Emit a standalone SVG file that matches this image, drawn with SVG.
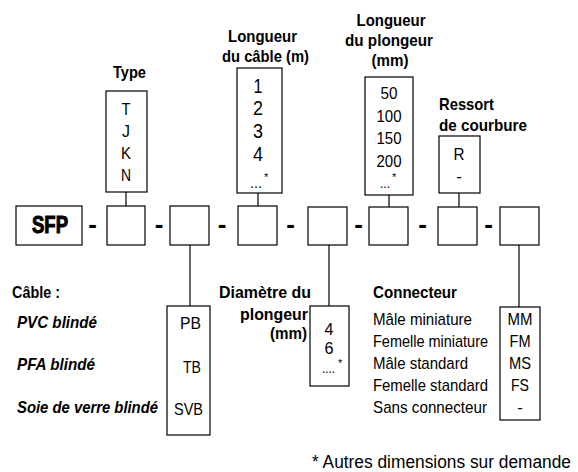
<svg xmlns="http://www.w3.org/2000/svg" width="578" height="472" viewBox="0 0 578 472">
<style>
text{font-family:"Liberation Sans Narrow","Liberation Sans",Arial,sans-serif;fill:#000}
.b{font-weight:bold;font-size:17px}
.bi{font-weight:bold;font-style:italic;font-size:17px}
.r{font-size:17px}
.n{font-size:21px}
.c{text-anchor:middle}
.e{text-anchor:end}
.d{font-weight:bold;font-size:26px;text-anchor:middle}
.dots{font-size:14px}
.st{font-size:11px}
.box{fill:#fff;stroke:#000;stroke-width:1.2}
line{stroke:#000;stroke-width:1.2}
</style>
<rect width="578" height="472" fill="#fff"/>

<g id="connectors">
<line x1="126" y1="192" x2="126" y2="206"/>
<line x1="258" y1="193" x2="258" y2="206"/>
<line x1="389" y1="195" x2="389" y2="207"/>
<line x1="459" y1="193" x2="459" y2="207"/>
<line x1="190" y1="245" x2="190" y2="306"/>
<line x1="329" y1="245" x2="329" y2="306"/>
<line x1="519" y1="245" x2="519" y2="307"/>
</g>

<g id="code-row">
<g id="sfp"><rect class="box" x="16" y="206" width="66" height="39"/><text x="32" y="233" font-weight="bold" font-size="23" textLength="36" lengthAdjust="spacingAndGlyphs" stroke="#000" stroke-width="1">SFP</text></g>
<g id="box1"><rect class="box" x="107" y="206" width="38" height="39"/></g>
<g id="box2"><rect class="box" x="170" y="206" width="39" height="39"/></g>
<g id="box3"><rect class="box" x="238" y="206" width="39" height="39"/></g>
<g id="box4"><rect class="box" x="308" y="207" width="39" height="38"/></g>
<g id="box5"><rect class="box" x="369" y="207" width="39" height="38"/></g>
<g id="box6"><rect class="box" x="438" y="207" width="39" height="38"/></g>
<g id="box7"><rect class="box" x="500" y="207" width="39" height="38"/></g>
<g id="dashes">
<text class="d" x="92.5" y="233">-</text>
<text class="d" x="159" y="233">-</text>
<text class="d" x="222" y="233">-</text>
<text class="d" x="290.5" y="233">-</text>
<text class="d" x="358.5" y="233">-</text>
<text class="d" x="422.5" y="233">-</text>
<text class="d" x="488.5" y="233">-</text>
</g>
</g>

<g id="type">
<text class="b" x="113" y="78" textLength="33" lengthAdjust="spacingAndGlyphs">Type</text>
<rect class="box" x="106" y="91" width="41" height="101"/>
<text class="r c" x="126" y="115" textLength="9" lengthAdjust="spacingAndGlyphs">T</text>
<text class="r c" x="126" y="137" textLength="8" lengthAdjust="spacingAndGlyphs">J</text>
<text class="r c" x="126" y="159" textLength="10" lengthAdjust="spacingAndGlyphs">K</text>
<text class="r c" x="126" y="181" textLength="10" lengthAdjust="spacingAndGlyphs">N</text>
</g>

<g id="cable-length">
<text class="b" x="228" y="42" textLength="69" lengthAdjust="spacingAndGlyphs">Longueur</text>
<text class="b" x="222" y="62" textLength="87" lengthAdjust="spacingAndGlyphs">du câble (m)</text>
<rect class="box" x="237" y="68" width="45" height="125"/>
<text class="n c" x="258" y="93" textLength="9" lengthAdjust="spacingAndGlyphs">1</text>
<text class="n c" x="258" y="115" textLength="10" lengthAdjust="spacingAndGlyphs">2</text>
<text class="n c" x="258" y="138" textLength="10" lengthAdjust="spacingAndGlyphs">3</text>
<text class="n c" x="258" y="161" textLength="10" lengthAdjust="spacingAndGlyphs">4</text>
<text class="dots" x="250" y="188" textLength="12" lengthAdjust="spacingAndGlyphs">...</text>
<text class="st" x="264" y="181">*</text>
</g>

<g id="plunger-length">
<text class="b c" x="391" y="26" textLength="69" lengthAdjust="spacingAndGlyphs">Longueur</text>
<text class="b c" x="389" y="46" textLength="88" lengthAdjust="spacingAndGlyphs">du plongeur</text>
<text class="b c" x="390" y="66" textLength="37" lengthAdjust="spacingAndGlyphs">(mm)</text>
<rect class="box" x="365" y="77" width="48" height="118"/>
<text class="r c" x="389" y="99" textLength="17" lengthAdjust="spacingAndGlyphs">50</text>
<text class="r c" x="389" y="122" textLength="25" lengthAdjust="spacingAndGlyphs">100</text>
<text class="r c" x="389" y="144" textLength="25" lengthAdjust="spacingAndGlyphs">150</text>
<text class="r c" x="389" y="167" textLength="25" lengthAdjust="spacingAndGlyphs">200</text>
<text class="dots" x="380" y="188" textLength="10" lengthAdjust="spacingAndGlyphs">...</text>
<text class="st" x="392" y="181">*</text>
</g>

<g id="spring">
<text class="b" x="439" y="110" textLength="55" lengthAdjust="spacingAndGlyphs">Ressort</text>
<text class="b" x="439" y="131" textLength="88" lengthAdjust="spacingAndGlyphs">de courbure</text>
<rect class="box" x="439" y="136" width="41" height="57"/>
<text class="r c" x="459" y="160" textLength="11" lengthAdjust="spacingAndGlyphs">R</text>
<text class="r c" x="459" y="182">-</text>
</g>

<g id="cable">
<text class="b" x="12" y="298" textLength="48" lengthAdjust="spacingAndGlyphs">Câble :</text>
<text class="bi" x="17" y="328" textLength="80" lengthAdjust="spacingAndGlyphs">PVC blindé</text>
<text class="bi" x="17" y="370" textLength="78" lengthAdjust="spacingAndGlyphs">PFA blindé</text>
<text class="bi" x="17" y="413" font-size="15" textLength="141" lengthAdjust="spacingAndGlyphs">Soie de verre blindé</text>
<rect class="box" x="167" y="306" width="43" height="129"/>
<text class="r" x="180" y="329" textLength="21" lengthAdjust="spacingAndGlyphs">PB</text>
<text class="r" x="183" y="373" textLength="18" lengthAdjust="spacingAndGlyphs">TB</text>
<text class="r" x="174" y="415" textLength="29" lengthAdjust="spacingAndGlyphs">SVB</text>
</g>

<g id="diameter">
<text class="b e" x="311" y="298" textLength="92" lengthAdjust="spacingAndGlyphs">Diamètre du</text>
<text class="b e" x="308" y="320" textLength="68" lengthAdjust="spacingAndGlyphs">plongeur</text>
<text class="b e" x="307" y="339" textLength="37" lengthAdjust="spacingAndGlyphs">(mm)</text>
<rect class="box" x="310" y="306" width="39" height="80"/>
<text class="r c" x="329" y="335" textLength="9" lengthAdjust="spacingAndGlyphs">4</text>
<text class="r c" x="329" y="354" textLength="9" lengthAdjust="spacingAndGlyphs">6</text>
<text class="dots" x="322" y="373" textLength="13" lengthAdjust="spacingAndGlyphs">....</text>
<text class="st" x="338" y="367">*</text>
</g>

<g id="connector">
<text class="b" x="373" y="298" textLength="84" lengthAdjust="spacingAndGlyphs">Connecteur</text>
<text class="r" x="373" y="325" textLength="99" lengthAdjust="spacingAndGlyphs">Mâle miniature</text>
<text class="r" x="373" y="347" textLength="115" lengthAdjust="spacingAndGlyphs">Femelle miniature</text>
<text class="r" x="373" y="369" textLength="95" lengthAdjust="spacingAndGlyphs">Mâle standard</text>
<text class="r" x="373" y="391" textLength="115" lengthAdjust="spacingAndGlyphs">Femelle standard</text>
<text class="r" x="373" y="413" textLength="114" lengthAdjust="spacingAndGlyphs">Sans connecteur</text>
<rect class="box" x="500" y="307" width="40" height="113"/>
<text class="r c" x="520" y="325" textLength="25" lengthAdjust="spacingAndGlyphs">MM</text>
<text class="r c" x="520" y="347" textLength="21" lengthAdjust="spacingAndGlyphs">FM</text>
<text class="r c" x="520" y="369" textLength="22" lengthAdjust="spacingAndGlyphs">MS</text>
<text class="r c" x="520" y="391" textLength="18" lengthAdjust="spacingAndGlyphs">FS</text>
<text class="r c" x="520" y="413">-</text>
</g>

<g id="footnote">
<text x="312" y="468" font-size="17.5" textLength="259" lengthAdjust="spacingAndGlyphs">* Autres dimensions sur demande</text>
</g>
</svg>
